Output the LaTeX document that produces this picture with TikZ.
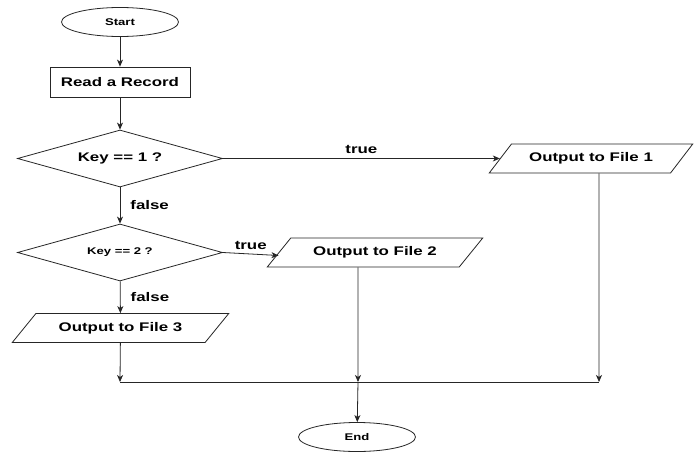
\documentclass[tikz,border=0pt]{standalone}
\usepackage{fontspec}
\setmainfont{Liberation Sans}[FakeStretch=1.35]
\usetikzlibrary{shapes.geometric,arrows.meta}
\newcommand{\bigfont}{\fontsize{12.5}{14}\selectfont\bfseries}
\newcommand{\smallfont}{\fontsize{9.7}{11}\selectfont\bfseries}
\begin{document}
\begin{tikzpicture}[x=1pt,y=1pt,line width=0.8pt,
  flow/.style={draw=black!85,-{Stealth[length=7pt,width=6pt,inset=2pt]}},
  plain/.style={draw=black!85},
  terminal/.style={ellipse,draw=black!85,minimum width=117pt,minimum height=29pt,inner sep=0pt,font=\smallfont},
  process/.style={rectangle,draw=black!85,minimum width=140pt,minimum height=30pt,inner sep=0pt,font=\bigfont},
  decision/.style={diamond,aspect=3.6,draw=black!85,minimum width=205pt,minimum height=57pt,inner sep=0pt},
  io/.style={trapezium,trapezium left angle=34,trapezium right angle=146,trapezium stretches=true,
    draw=black!85,minimum height=29pt,inner sep=0pt,font=\bigfont},
  lbl/.style={font=\bigfont,inner sep=0pt}
]
\fill[white] (0,0) rectangle (696,-452);
\useasboundingbox (0,0) rectangle (696,-452);

% nodes
\node[terminal] (start) at (120,-22) {Start};
\node[process] (read) at (120,-82) {Read a Record};
\node[decision,font=\bigfont] (d1) at (120,-158.5) {Key == 1 ?};
\node[decision,font=\smallfont] (d2) at (120,-252.5) {Key == 2 ?};
\node[io,minimum width=204pt] (p1) at (591,-158.5) {Output to File 1};
\node[io,minimum width=216pt] (p2) at (375,-252.5) {Output to File 2};
\node[io,minimum width=217pt] (p3) at (120.5,-328) {Output to File 3};
\node[terminal] (end) at (357,-437) {End};

% merge line
\coordinate (j1) at (120,-382);
\coordinate (j2) at (358,-382);
\coordinate (j3) at (599,-382);

% connectors
\draw[flow] (start) -- (read);
\draw[flow] (read) -- (d1);
\draw[flow] (d1) -- node[lbl,anchor=west,xshift=10pt] {false} (d2);
\draw[flow] (d1.east) -- node[lbl,above=4pt] {true} (p1.west);
\draw[flow] (d2.east) -- node[lbl,above=4pt] {true} ([yshift=-3pt]p2.west);
\draw[flow] (d2) -- node[lbl,anchor=west,xshift=10pt] {false} (p3);
\draw[flow] (p3) -- (j1);
\draw[flow] ([xshift=-17pt]p2.south) -- (j2);
\draw[flow] ([xshift=8pt]p1.south) -- (j3);
\draw[plain] (j1) -- (j3);
\draw[flow] (j2) -- (end);
\end{tikzpicture}
\end{document}
